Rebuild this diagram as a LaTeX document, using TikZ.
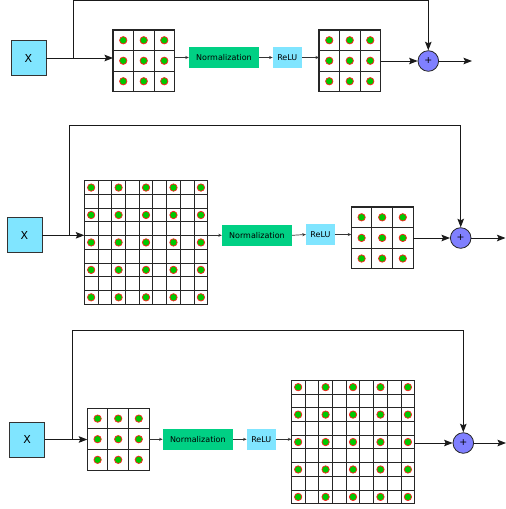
\documentclass[tikz,border=0pt]{standalone}
\usepackage{fontspec}
\setmainfont{DejaVu Sans}
\usetikzlibrary{arrows.meta}
\definecolor{inbox}{HTML}{80E5FF}
\definecolor{normg}{HTML}{00D084}
\definecolor{addc}{HTML}{8080FF}
\definecolor{dotg}{HTML}{00C800}
\definecolor{dotr}{HTML}{FF2020}
\tikzset{
 xbox/.style={draw=black!80, fill=inbox, line width=0.8pt, inner sep=0pt, minimum width=35pt, minimum height=35pt, font=\fontsize{11}{12}\selectfont},
 normbox/.style={fill=normg, inner sep=0pt, minimum width=70pt, minimum height=21pt, font=\fontsize{8}{9}\selectfont},
 relubox/.style={fill=inbox, inner sep=0pt, minimum width=29pt, minimum height=21pt, font=\fontsize{8}{9}\selectfont},
 addnode/.style={circle, draw=black!85, fill=addc, minimum size=20.6pt, inner sep=0pt, line width=0.8pt, font=\fontsize{9.5}{10}\selectfont},
 gridbox/.style={draw=black!85, line width=1.1pt, inner sep=0pt, outer sep=0pt, anchor=north west},
 gline/.style={draw=black!85, line width=1pt},
 dot/.style={fill=dotg, draw=dotr, line width=0.7pt},
 bigarr/.style={draw=black!90, line width=0.9pt, -{Stealth[length=8.5pt,width=6.5pt,inset=1.5pt]}},
 smallarr/.style={draw=black!80, line width=0.7pt, -{Stealth[length=3.5pt,width=3pt]}},
}
\newcommand{\featmap}[6]{%
  \pgfmathsetmacro\fmside{#4*#5}%
  \pgfmathtruncatemacro\fmlast{#4-1}%
  \node[gridbox, minimum width=\fmside pt, minimum height=\fmside pt] (#1) at (#2,#3) {};
  \foreach \k in {1,...,\fmlast}{
    \draw[gline] ({#2+\k*#5},#3) -- ({#2+\k*#5},{#3+\fmside});
    \draw[gline] (#2,{#3+\k*#5}) -- ({#2+\fmside},{#3+\k*#5});
  }
  \foreach \r in {#6}{\foreach \c in {#6}{
    \draw[dot] ({#2+(\c+0.5)*#5},{#3+(\r+0.5)*#5}) circle (3.7pt);
  }}
}
\begin{document}
\begin{tikzpicture}[x=1pt,y=-1pt]
\useasboundingbox (0,0) rectangle (506,509);
% ---------- row 1 ----------
\node[xbox] (x1) at (28.5,58) {X};
\featmap{g1}{113}{30}{3}{20.5}{0,1,2}
\node[normbox] (n1) at (224,57.5) {Normalization};
\node[relubox] (r1) at (287.3,57.5) {ReLU};
\featmap{h1}{319}{30}{3}{20.5}{0,1,2}
\node[addnode] (c1) at (428.3,61) {+};
\coordinate (b1) at (73,58);
\coordinate (t1) at (73,0.6);
\coordinate (o1) at (472,61);
\draw[bigarr] (x1.east) -- (x1.east -| g1.west);
\draw[bigarr] (b1) -- (t1) -| (c1.north);
\draw[smallarr] (n1.west -| g1.east) -- (n1.west);
\draw[smallarr] (n1.east) -- (r1.west);
\draw[smallarr] (r1.east) -- (r1.east -| h1.west);
\draw[bigarr] (c1.west -| h1.east) -- (c1.west);
\draw[bigarr] (c1.east) -- (o1);
% ---------- row 2 ----------
\node[xbox] (x2) at (24.5,235.3) {X};
\featmap{g2}{84.3}{180.7}{9}{13.72}{0,2,4,6,8}
\node[normbox] (n2) at (257,235.3) {Normalization};
\node[relubox] (r2) at (320.5,234.5) {ReLU};
\featmap{h2}{351.3}{207}{3}{20.6}{0,1,2}
\node[addnode] (c2) at (460.7,238) {+};
\coordinate (b2) at (69.3,235.3);
\coordinate (t2) at (69.3,125.7);
\coordinate (o2) at (505.5,238);
\draw[bigarr] (x2.east) -- (x2.east -| g2.west);
\draw[bigarr] (b2) -- (t2) -| (c2.north);
\draw[smallarr] (n2.west -| g2.east) -- (n2.west);
\draw[smallarr] (n2.east) -- (r2.west);
\draw[smallarr] (r2.east) -- (r2.east -| h2.west);
\draw[bigarr] (c2.west -| h2.east) -- (c2.west);
\draw[bigarr] (c2.east) -- (o2);
% ---------- row 3 ----------
\node[xbox] (x3) at (27.2,439.5) {X};
\featmap{g3}{87.3}{408.3}{3}{20.6}{0,1,2}
\node[normbox] (n3) at (197.8,439.3) {Normalization};
\node[relubox] (r3) at (261.3,439.3) {ReLU};
\featmap{h3}{291.3}{380.3}{9}{13.72}{0,2,4,6,8}
\node[addnode] (c3) at (463.3,443) {+};
\coordinate (b3) at (72,439.5);
\coordinate (t3) at (72,330.3);
\coordinate (o3) at (506,443);
\draw[bigarr] (x3.east) -- (x3.east -| g3.west);
\draw[bigarr] (b3) -- (t3) -| (c3.north);
\draw[smallarr] (n3.west -| g3.east) -- (n3.west);
\draw[smallarr] (n3.east) -- (r3.west);
\draw[smallarr] (r3.east) -- (r3.east -| h3.west);
\draw[bigarr] (c3.west -| h3.east) -- (c3.west);
\draw[bigarr] (c3.east) -- (o3);
\end{tikzpicture}
\end{document}
